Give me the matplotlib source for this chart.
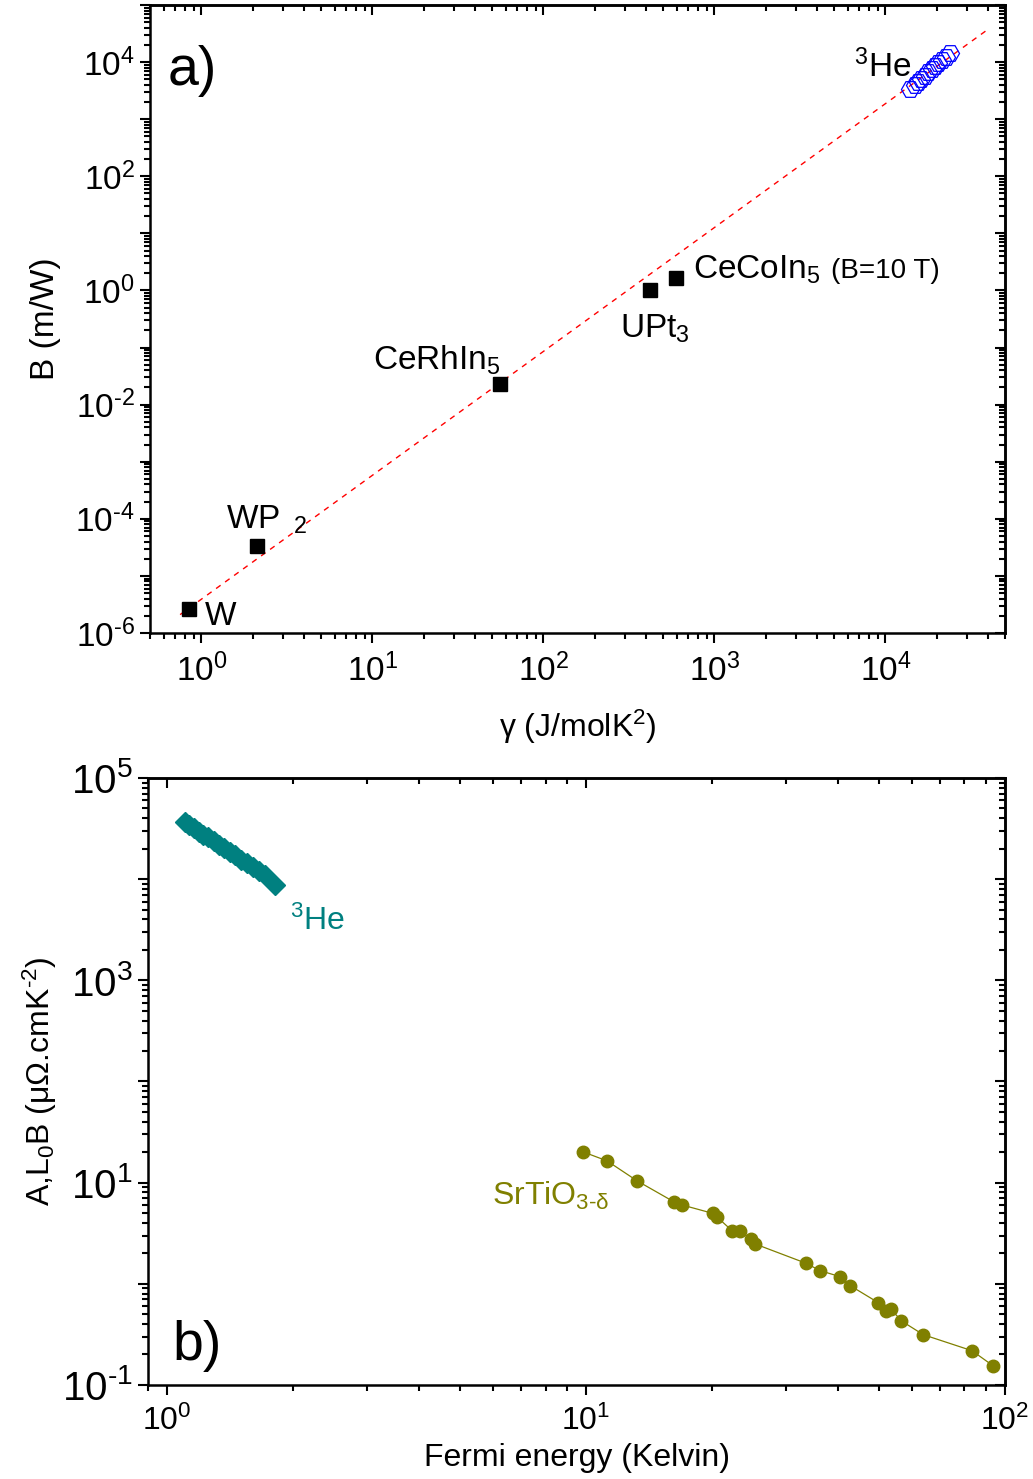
import numpy as np
import matplotlib
matplotlib.use("Agg")
import matplotlib.pyplot as plt
from matplotlib.ticker import LogLocator, FuncFormatter, NullFormatter

plt.rcParams['font.family'] = ['Liberation Sans', 'DejaVu Sans']
plt.rcParams['mathtext.fontset'] = 'custom'
plt.rcParams['mathtext.rm'] = 'Liberation Sans'
plt.rcParams['mathtext.it'] = 'Liberation Sans:italic'
plt.rcParams['mathtext.bf'] = 'Liberation Sans:bold'

#panel a) data
gamma_metals = [0.84, 2.12, 55.4, 421, 597]
B_metals = [2.6e-6, 3.3e-5, 0.0234, 1.0, 1.67]
metal_names = ["W", "WP2", "CeRhIn5", "UPt3", "CeCoIn5"]

gamma_he3 = [14000, 14800, 15500, 16200, 17000, 17800, 18600, 19500, 20400, 21400, 22500, 23900]
B_he3 = [3400, 3950, 4500, 5100, 5800, 6600, 7500, 8500, 9600, 11000, 12500, 14400]

fit_gamma = [0.75, 4.0e4]
fit_B = [2.1e-6, 3.8e4]

#panel b) data
TF_he3 = [1.10, 1.13, 1.16, 1.19, 1.22, 1.25, 1.29, 1.33, 1.37, 1.41, 1.45, 1.50,
          1.55, 1.60, 1.66, 1.71, 1.81]
coef_he3 = [36600, 34000, 31700, 29500, 27500, 25800, 23700, 21800, 20100, 18500,
            17200, 15600, 14300, 13100, 11900, 10900, 8740]

TF_sto = [9.81, 11.22, 13.24, 16.18, 16.95, 20.05, 20.5, 22.3, 23.35, 24.7, 25.35,
          33.5, 36.2, 40.4, 42.7, 49.85, 52.0, 53.4, 56.6, 63.8, 83.4, 93.8]
coef_sto = [20.2, 16.4, 10.4, 6.48, 6.01, 4.97, 4.60, 3.35, 3.35, 2.75, 2.47,
            1.595, 1.348, 1.175, 0.958, 0.650, 0.542, 0.564, 0.429, 0.314, 0.218, 0.154]

teal = "#008080"
olive = "#808000"


def exp_of(val):
    return int(round(np.log10(val)))


def sci(e):
    # short hyphen for negative exponents, like the original
    return r"$10^{\text{%d}}$" % e


def even_label(val, pos):
    e = exp_of(val)
    return sci(e) if e % 2 == 0 else ""


def odd_label(val, pos):
    e = exp_of(val)
    return sci(e) if e % 2 != 0 else ""


def all_label(val, pos):
    return sci(exp_of(val))


def log_ticks(axis, nmajor):
    axis.set_major_locator(LogLocator(base=10, numticks=nmajor))
    axis.set_minor_locator(LogLocator(base=10, subs=np.arange(2, 10), numticks=100))
    axis.set_minor_formatter(NullFormatter())


def style_axis(ax, xsize, ysize):
    for s in ax.spines.values():
        s.set_linewidth(1.8)
    ax.tick_params(which='both', direction='out', width=1.5, top=False, right=False)
    ax.tick_params(which='major', length=7)
    ax.tick_params(which='minor', length=4)
    ax.tick_params(axis='x', labelsize=xsize, pad=8)
    ax.tick_params(axis='y', labelsize=ysize, pad=4)
    # mirrored ticks on top and right point inwards
    top = ax.secondary_xaxis('top')
    log_ticks(top.xaxis, 30)
    top.xaxis.set_major_formatter(NullFormatter())
    top.tick_params(which='both', direction='in', width=1.5)
    top.tick_params(which='major', length=7)
    top.tick_params(which='minor', length=4)
    top.spines['top'].set_linewidth(1.8)
    right = ax.secondary_yaxis('right')
    log_ticks(right.yaxis, 30)
    right.yaxis.set_major_formatter(NullFormatter())
    right.tick_params(which='both', direction='in', width=1.5)
    right.tick_params(which='major', length=7)
    right.tick_params(which='minor', length=4)
    right.spines['right'].set_linewidth(1.8)


fig = plt.figure(figsize=(10.33, 14.79), dpi=100)

#top panel
ax1 = fig.add_axes([0.1452, 0.572, 0.8277, 0.4246])
ax1.set_xscale("log")
ax1.set_yscale("log")
ax1.plot(fit_gamma, fit_B, color="red", lw=1.0, ls=(0, (4, 4)))
ax1.plot(gamma_metals, B_metals, "s", color="black", ms=10, ls="none")
ax1.plot(gamma_he3, B_he3, "H", mfc="none", mec="blue", mew=0.9, ms=13, ls="none")
ax1.set_xlim(0.5, 5e4)
ax1.set_ylim(1e-6, 1e5)

log_ticks(ax1.xaxis, 20)
ax1.xaxis.set_major_formatter(FuncFormatter(all_label))
log_ticks(ax1.yaxis, 30)
ax1.yaxis.set_major_formatter(FuncFormatter(even_label))
style_axis(ax1, 24, 24)

ax1.set_xlabel("γ (J/molK$^2$)", fontsize=23, labelpad=14)
ax1.set_ylabel("B (m/W)", fontsize=24, labelpad=10)

ax1.text(0.021, 0.873, "a)", transform=ax1.transAxes, fontsize=40, va="baseline")
ax1.text(0.891, 0.885, r"$^3$He", transform=ax1.transAxes, fontsize=24, ha="right", va="baseline")
ax1.text(0.635, 0.565, r"CeCoIn$_5$", transform=ax1.transAxes, fontsize=24, va="baseline")
ax1.text(0.797, 0.565, "(B=10 T)", transform=ax1.transAxes, fontsize=20, va="baseline")
ax1.text(0.55, 0.47, r"UPt$_3$", transform=ax1.transAxes, fontsize=24, va="baseline")
ax1.text(0.261, 0.419, r"CeRhIn$_5$", transform=ax1.transAxes, fontsize=24, va="baseline")
ax1.text(0.089, 0.167, r"WP$_{\ \ 2}$", transform=ax1.transAxes, fontsize=24, va="baseline")
ax1.text(0.064, 0.012, "W", transform=ax1.transAxes, fontsize=24, va="baseline")

#bottom panel
ax2 = fig.add_axes([0.1433, 0.0636, 0.8296, 0.4104])
ax2.set_xscale("log")
ax2.set_yscale("log")
ax2.plot(TF_he3, coef_he3, "D", color=teal, ms=10, ls="none")
ax2.plot(TF_sto, coef_sto, "-o", color=olive, ms=9, lw=0.9)
ax2.set_xlim(0.9, 100)
ax2.set_ylim(0.1, 1e5)

log_ticks(ax2.xaxis, 10)
ax2.xaxis.set_major_formatter(FuncFormatter(all_label))
log_ticks(ax2.yaxis, 20)
ax2.yaxis.set_major_formatter(FuncFormatter(odd_label))
style_axis(ax2, 23, 29)

ax2.set_xlabel("Fermi energy (Kelvin)", fontsize=23, labelpad=4)
ax2.set_ylabel(r"A,L$_0$B (μΩ.cmK$^{\text{-2}}$)", fontsize=23, labelpad=2)

ax2.text(0.028, 0.041, "b)", transform=ax2.transAxes, fontsize=40, va="baseline")
ax2.text(0.166, 0.75, r"$^3$He", transform=ax2.transAxes, fontsize=23, color=teal, va="baseline")
ax2.text(0.401, 0.297, r"SrTiO$_{\text{3-δ}}$", transform=ax2.transAxes, fontsize=23,
         color=olive, va="baseline")

fig.savefig("out.png", dpi=100)
